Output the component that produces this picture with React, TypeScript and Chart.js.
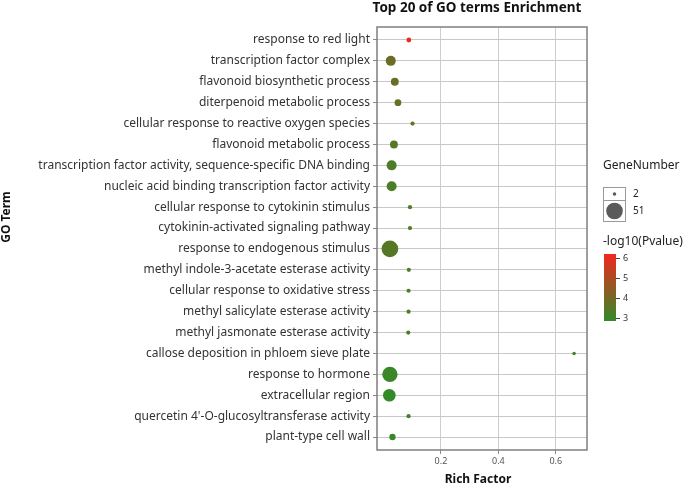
import React, { useEffect, useRef } from "react";
import { Chart, registerables } from "chart.js";
Chart.register(...registerables);

const terms = [
  "response to red light",
  "transcription factor complex",
  "flavonoid biosynthetic process",
  "diterpenoid metabolic process",
  "cellular response to reactive oxygen species",
  "flavonoid metabolic process",
  "transcription factor activity, sequence-specific DNA binding",
  "nucleic acid binding transcription factor activity",
  "cellular response to cytokinin stimulus",
  "cytokinin-activated signaling pathway",
  "response to endogenous stimulus",
  "methyl indole-3-acetate esterase activity",
  "cellular response to oxidative stress",
  "methyl salicylate esterase activity",
  "methyl jasmonate esterase activity",
  "callose deposition in phloem sieve plate",
  "response to hormone",
  "extracellular region",
  "quercetin 4'-O-glucosyltransferase activity",
  "plant-type cell wall",
];
const richFactor = [0.088, 0.025, 0.039, 0.05, 0.101, 0.036, 0.028, 0.028, 0.092, 0.092, 0.022, 0.088, 0.087, 0.087, 0.086, 0.664, 0.022, 0.02, 0.087, 0.031];
const geneNumber = [4, 18, 11, 8, 3, 11, 18, 18, 3, 3, 51, 3, 3, 3, 3, 2, 43, 29, 3, 7];
const negLog10P = [6.2, 3.85, 3.8, 3.75, 3.55, 3.5, 3.3, 3.3, 3.35, 3.35, 3.45, 3.3, 3.3, 3.3, 3.3, 3.2, 2.95, 2.85, 3.2, 2.9];
const xTicks = [0.2, 0.4, 0.6];
const colorTicks = [3, 4, 5, 6];
const sizeBreaks = [2, 51];

const FONT = "'Noto Sans', 'DejaVu Sans', sans-serif";
const LOW = [0x34, 0x8a, 0x28];
const HIGH = [0xf0, 0x28, 0x1e];

const cMin = Math.min(...negLog10P), cMax = Math.max(...negLog10P);
function colorFor(v: number) {
  const t = Math.max(0, Math.min(1, (v - cMin) / (cMax - cMin)));
  const c = LOW.map((l, i) => Math.round(l + (HIGH[i] - l) * t));
  return `rgb(${c[0]},${c[1]},${c[2]})`;
}
function radiusFor(n: number) {
  return (0.25 + 2.3 * Math.sqrt(n)) / 2;
}

const decorPlugin = {
  id: "decor",
  afterDraw(chart: any) {
    const { ctx, chartArea } = chart;
    const { left, top, right, bottom } = chartArea;
    ctx.save();
    ctx.strokeStyle = "#7f7f7f";
    ctx.lineWidth = 1.5;
    ctx.strokeRect(left, top, right - left, bottom - top);
    ctx.fillStyle = "#111";
    ctx.font = `bold 13.5px ${FONT}`;
    ctx.textAlign = "center";
    ctx.textBaseline = "middle";
    ctx.fillText("Top 20 of GO terms Enrichment", 477, 8);
    ctx.font = `bold 12px ${FONT}`;
    ctx.fillText("Rich Factor", 478, 480);
    ctx.save();
    ctx.translate(7, 217);
    ctx.rotate(-Math.PI / 2);
    ctx.fillText("GO Term", 0, 0);
    ctx.restore();
    ctx.textAlign = "left";
    ctx.font = `12px ${FONT}`;
    ctx.fillStyle = "#222";
    ctx.fillText("GeneNumber", 603, 166);
    const boxes = [
      { y0: 187, y1: 200 },
      { y0: 200, y1: 221 },
    ];
    sizeBreaks.forEach((n, i) => {
      const b = boxes[i];
      ctx.fillStyle = "#fff";
      ctx.fillRect(603, b.y0, 23, b.y1 - b.y0);
      ctx.strokeStyle = "#9a9a9a";
      ctx.lineWidth = 1;
      ctx.strokeRect(603.5, b.y0 + 0.5, 22, b.y1 - b.y0);
      ctx.fillStyle = "#5a5a5a";
      ctx.beginPath();
      ctx.arc(614.5, (b.y0 + b.y1) / 2 + 0.5, radiusFor(n), 0, Math.PI * 2);
      ctx.fill();
      ctx.fillStyle = "#222";
      ctx.font = `10px ${FONT}`;
      ctx.fillText(String(n), 633, (b.y0 + b.y1) / 2 + 1);
    });
    ctx.font = `12px ${FONT}`;
    ctx.fillText("-log10(Pvalue)", 603, 242);
    const barTop = 254, barBot = 321, barL = 604, barR = 616;
    const vToY = (v: number) => 318 - (v - 3) * 20;
    for (let y = barTop; y < barBot; y++) {
      const v = 3 + (318 - (y + 0.5)) / 20;
      ctx.fillStyle = colorFor(Math.max(cMin, Math.min(cMax, v)));
      ctx.fillRect(barL, y, barR - barL, 1);
    }
    ctx.strokeStyle = "#444";
    ctx.lineWidth = 1;
    ctx.font = `9px ${FONT}`;
    ctx.fillStyle = "#333";
    colorTicks.forEach((t) => {
      const y = Math.round(vToY(t)) + 0.5;
      ctx.beginPath();
      ctx.moveTo(barR, y);
      ctx.lineTo(barR + 4, y);
      ctx.stroke();
      ctx.fillText(String(t), 623, y);
    });
    ctx.restore();
  },
};

export default function App() {
  const ref = useRef<HTMLCanvasElement | null>(null);
  useEffect(() => {
    if (!ref.current) return;
    const data = terms.map((_, i) => ({ x: richFactor[i], y: i, r: radiusFor(geneNumber[i]) }));
    const chart = new Chart(ref.current, {
      type: "bubble",
      data: {
        datasets: [
          {
            data,
            backgroundColor: negLog10P.map(colorFor),
            borderWidth: 0,
            hoverBorderWidth: 0,
          },
        ],
      },
      options: {
        animation: false,
        responsive: false,
        devicePixelRatio: 1,
        layout: { padding: { left: 0, top: 27, right: 98, bottom: 0 } },
        plugins: { legend: { display: false }, tooltip: { enabled: false }, title: { display: false } },
        scales: {
          x: {
            type: "linear",
            min: -0.023,
            max: 0.709,
            afterBuildTicks: (s: any) => {
              s.ticks = xTicks.map((v) => ({ value: v }));
            },
            afterFit: (s: any) => {
              s.height = 35;
            },
            grid: { color: "#cdcdcd", lineWidth: 1, tickLength: 4, tickColor: "#8a8a8a" },
            border: { display: false },
            ticks: {
              font: { family: FONT, size: 9 },
              color: "#555",
              padding: 2,
              callback: (v: any) => String(v),
            },
          },
          y: {
            type: "linear",
            reverse: true,
            min: -0.62,
            max: 19.62,
            afterBuildTicks: (s: any) => {
              s.ticks = terms.map((_, i) => ({ value: i }));
            },
            afterFit: (s: any) => {
              s.width = 377;
            },
            grid: { color: "#c8c8c8", lineWidth: 1, tickLength: 4, tickColor: "#8a8a8a" },
            border: { display: false },
            ticks: {
              font: { family: FONT, size: 12 },
              color: "#333",
              padding: 3,
              autoSkip: false,
              callback: (v: any) => terms[v] ?? "",
            },
          },
        },
      },
      plugins: [decorPlugin],
    } as any);
    return () => chart.destroy();
  }, []);
  return (
    <div style={{ position: "fixed", left: 0, top: 0, width: 685, height: 485, background: "#fff" }}>
      <canvas ref={ref} width={685} height={485} style={{ width: 685, height: 485 }} />
    </div>
  );
}
